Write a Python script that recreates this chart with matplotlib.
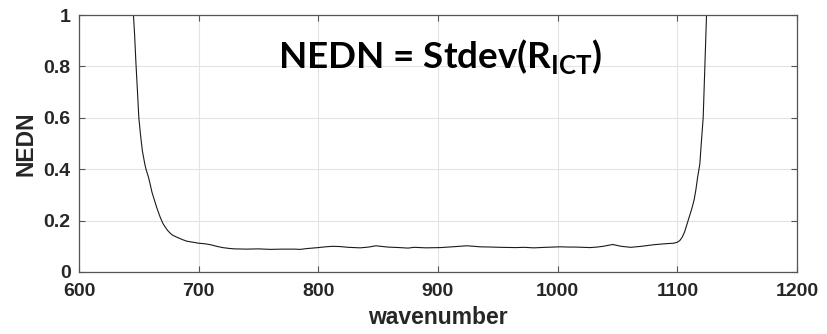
import matplotlib
matplotlib.use("Agg")
import matplotlib.pyplot as plt

# NEDN spectrum
wavenumber = [644, 645.5, 646.5, 647.5, 649, 650, 651.5, 653, 655, 656, 658, 659.3,
              661, 663, 665, 667.7, 670, 672, 674, 676, 678, 681, 684, 687, 690,
              695, 700, 705, 710, 715, 720, 725, 730, 740, 750, 760, 770, 780,
              785, 790, 795, 800, 806, 812, 818, 825, 835, 842, 848, 858, 868,
              875, 880, 890, 902, 912, 918, 924, 930, 935, 945, 952, 965, 972,
              980, 990, 1002, 1010, 1015, 1027, 1033, 1038, 1046, 1053, 1061,
              1070, 1080, 1090, 1097, 1100, 1102, 1104, 1106, 1108, 1110, 1112,
              1114, 1115.5, 1117, 1118.8, 1120, 1121.6, 1123, 1124.4, 1125.5]
nedn = [1.08, 1.0, 0.92, 0.82, 0.69, 0.6, 0.53, 0.47, 0.42, 0.40, 0.37, 0.345,
        0.31, 0.28, 0.25, 0.215, 0.19, 0.175, 0.162, 0.152, 0.144, 0.137, 0.131, 0.125, 0.12,
        0.116, 0.112, 0.11, 0.106, 0.1, 0.095, 0.092, 0.09, 0.089, 0.09, 0.088, 0.089, 0.089,
        0.088, 0.091, 0.093, 0.095, 0.098, 0.1, 0.099, 0.096, 0.094, 0.097, 0.102, 0.097, 0.095,
        0.093, 0.096, 0.094, 0.095, 0.098, 0.1, 0.102, 0.1, 0.098, 0.097, 0.096, 0.095, 0.096,
        0.094, 0.096, 0.098, 0.097, 0.097, 0.095, 0.097, 0.1, 0.107, 0.1, 0.096,
        0.1, 0.106, 0.11, 0.112, 0.116, 0.122, 0.135, 0.155, 0.185, 0.215, 0.245,
        0.28, 0.32, 0.37, 0.42, 0.5, 0.6, 0.8, 1.0, 1.08]

xticks = [600, 700, 800, 900, 1000, 1100, 1200]
yticks = [0, 0.2, 0.4, 0.6, 0.8, 1]
ytick_labels = ["0", "0.2", "0.4", "0.6", "0.8", "1"]

plt.rcParams["font.family"] = ["Liberation Sans", "DejaVu Sans"]
plt.rcParams["mathtext.fontset"] = "custom"
plt.rcParams["mathtext.bf"] = "Lato:bold"
plt.rcParams["mathtext.rm"] = "Lato:bold"

fig = plt.figure(figsize=(8.27, 3.34), dpi=100)
ax = fig.add_axes([79 / 827, 62 / 334, 718 / 827, 257 / 334])

ax.plot(wavenumber, nedn, color="#1a1a1a", lw=0.8)
ax.set_xlim(600, 1200)
ax.set_ylim(0, 1)
ax.set_xticks(xticks)
ax.set_yticks(yticks)
ax.set_yticklabels(ytick_labels)
ax.grid(True, color="#e3e3e3", lw=0.8)
ax.set_axisbelow(True)

ax.tick_params(direction="in", length=4, width=0.8, color="#555555",
               top=True, right=True, labelsize=14, labelcolor="#262626")
ax.tick_params(axis="x", pad=8)
ax.tick_params(axis="y", pad=6)
for lbl in ax.get_xticklabels() + ax.get_yticklabels():
    lbl.set_fontweight("bold")
for sp in ax.spines.values():
    sp.set_color("#555555")
    sp.set_linewidth(0.9)

ax.set_xlabel("wavenumber", fontsize=16.5, fontweight="bold", color="#262626", labelpad=4)
ax.set_ylabel("NEDN", fontsize=16.5, fontweight="bold", color="#262626", labelpad=4)

ax.text(902, 0.837, r"NEDN = Stdev(R$_{\mathbf{ICT}}$)", family="Lato",
        fontweight="bold", fontsize=26.5, ha="center", va="center", color="black")

fig.savefig("out.png", dpi=100)
